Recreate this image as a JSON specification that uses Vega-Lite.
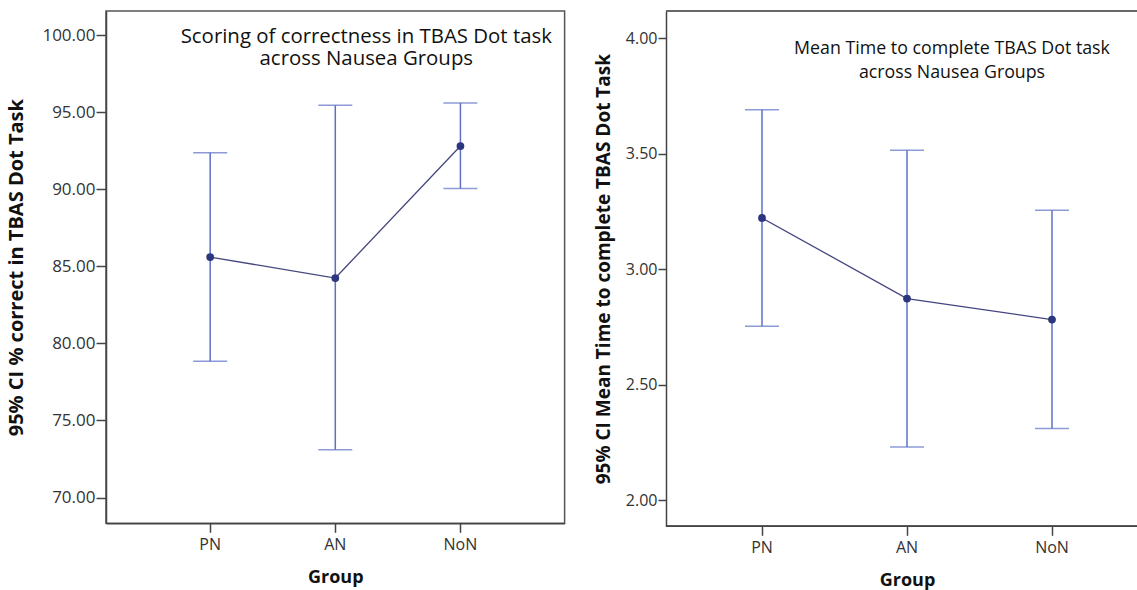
{
  "$schema": "https://vega.github.io/schema/vega-lite/v6.json",
  "padding": {"left": 6, "top": 10, "right": 0, "bottom": 0},
  "background": "white",
  "spacing": 101,
  "bounds": "flush",
  "config": {
    "view": {"stroke": "#555", "strokeWidth": 1.5},
    "axis": {"domainColor": "#444", "domainWidth": 1.5, "tickColor": "#444", "tickWidth": 1.5, "grid": false, "labelColor": "#333", "labelFont": "Open Sans", "titleFont": "Open Sans", "titleFontWeight": "bold", "titleColor": "#111", "titleFontSize": 18}
  },
  "hconcat": [
    {
      "width": 458.6,
      "height": 512.3,
      "data": {"values": [
        {"group": "PN", "lower": 78.84, "mean": 85.6, "upper": 92.37},
        {"group": "AN", "lower": 73.1, "mean": 84.24, "upper": 95.44},
        {"group": "NoN", "lower": 90.04, "mean": 92.8, "upper": 95.59}
      ]},
      "title": {"text": ["Scoring of correctness in TBAS Dot task", "across Nausea Groups"], "anchor": "middle", "dx": 31, "offset": -58, "font": "Open Sans", "fontSize": 20.4, "fontWeight": "normal", "color": "#111", "lineHeight": 22, "baseline": "top"},
      "encoding": {
        "x": {"field": "group", "type": "nominal", "sort": ["PN", "AN", "NoN"], "scale": {"padding": 0.665},
          "axis": {"labelAngle": 0, "title": "Group", "labelFontSize": 16, "tickSize": 9, "labelPadding": 4, "titlePadding": 16}}
      },
      "layer": [
        {"mark": {"type": "rule", "color": "#5b70c6", "strokeWidth": 1.5},
         "encoding": {"y": {"field": "lower", "type": "quantitative", "scale": {"domain": [68.33, 101.56], "nice": false, "zero": false},
           "axis": {"title": "95% CI % correct in TBAS Dot Task", "titleFontSize": 20, "format": ".2f", "values": [70, 75, 80, 85, 90, 95, 100], "labelFontSize": 17, "tickSize": 10, "labelPadding": 1, "titlePadding": 15}},
           "y2": {"field": "upper"}}},
        {"mark": {"type": "tick", "color": "#5b70c6", "thickness": 1.5, "size": 34}, "encoding": {"y": {"field": "lower", "type": "quantitative"}}},
        {"mark": {"type": "tick", "color": "#5b70c6", "thickness": 1.5, "size": 34}, "encoding": {"y": {"field": "upper", "type": "quantitative"}}},
        {"mark": {"type": "line", "color": "#45467f", "strokeWidth": 1.3}, "encoding": {"y": {"field": "mean", "type": "quantitative"}}},
        {"mark": {"type": "point", "filled": true, "color": "#2b367e", "size": 60, "opacity": 1}, "encoding": {"y": {"field": "mean", "type": "quantitative"}}}
      ]
    },
    {
      "width": 472,
      "height": 515.3,
      "view": {"stroke": null},
      "data": {"values": [
        {"group": "PN", "lower": 2.753, "mean": 3.2215, "upper": 3.69},
        {"group": "AN", "lower": 2.231, "mean": 2.873, "upper": 3.514},
        {"group": "NoN", "lower": 2.311, "mean": 2.782, "upper": 3.255}
      ]},
      "title": {"text": ["Mean Time to complete TBAS Dot task", "across Nausea Groups"], "anchor": "middle", "dx": 50, "offset": -72, "font": "Open Sans", "fontSize": 17.8, "fontWeight": "normal", "color": "#111", "lineHeight": 24, "baseline": "top"},
      "encoding": {
        "x": {"field": "group", "type": "nominal", "sort": ["PN", "AN", "NoN"], "scale": {"range": [23.5, 458.5]},
          "axis": {"labelAngle": 0, "title": "Group", "domain": false, "labelFontSize": 16, "tickSize": 9, "labelPadding": 4, "titlePadding": 16, "titleX": 241}}
      },
      "layer": [
        {"mark": {"type": "rule", "color": "#5b70c6", "strokeWidth": 1.5},
         "encoding": {
           "y": {"field": "lower", "type": "quantitative", "scale": {"domain": [1.8875, 4.117], "nice": false, "zero": false},
           "axis": {"title": "95% CI Mean Time to complete TBAS Dot Task", "titleFontSize": 19, "format": ".2f", "values": [2, 2.5, 3, 3.5, 4], "labelFontSize": 16, "tickSize": 8, "labelPadding": 1, "titlePadding": 12}},
           "y2": {"field": "upper"}}},
        {"mark": {"type": "rule", "color": "#666", "strokeWidth": 1.5}, "encoding": {"x": null, "y": {"datum": 4.117, "type": "quantitative"}}},
        {"mark": {"type": "rule", "color": "#444", "strokeWidth": 1.5}, "encoding": {"x": null, "y": {"datum": 1.8875, "type": "quantitative"}}},
        {"mark": {"type": "tick", "color": "#5b70c6", "thickness": 1.5, "size": 34}, "encoding": {"y": {"field": "lower", "type": "quantitative"}}},
        {"mark": {"type": "tick", "color": "#5b70c6", "thickness": 1.5, "size": 34}, "encoding": {"y": {"field": "upper", "type": "quantitative"}}},
        {"mark": {"type": "line", "color": "#45467f", "strokeWidth": 1.3}, "encoding": {"y": {"field": "mean", "type": "quantitative"}}},
        {"mark": {"type": "point", "filled": true, "color": "#2b367e", "size": 60, "opacity": 1}, "encoding": {"y": {"field": "mean", "type": "quantitative"}}}
      ]
    }
  ]
}
